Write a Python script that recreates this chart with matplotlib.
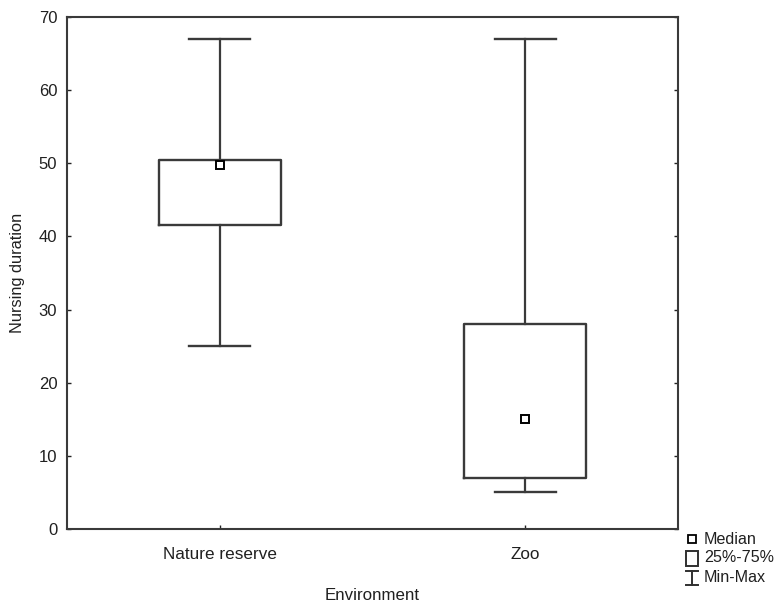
import matplotlib
matplotlib.use("Agg")
import matplotlib.pyplot as plt
from matplotlib.lines import Line2D
from matplotlib.patches import Rectangle

plt.rcParams['font.family'] = ['Liberation Sans', 'DejaVu Sans']

# values
groups = ["Nature reserve", "Zoo"]
medians = [49.8, 15.0]
q1 = [41.5, 7.0]
q3 = [50.5, 28.0]
mins = [25.0, 5.0]
maxs = [67.0, 67.0]

W, H = 776, 605
fig = plt.figure(figsize=(W / 100, H / 100), dpi=100)
ax = fig.add_axes([67 / W, 1 - 529 / H, (678 - 67) / W, (529 - 17) / H])

line_col = '#3a3a3a'
txt_col = '#202020'
stats = []
for i, g in enumerate(groups):
    stats.append(dict(label=g, med=medians[i], q1=q1[i], q3=q3[i],
                      whislo=mins[i], whishi=maxs[i], fliers=[]))

pos = list(range(len(groups)))
ax.bxp(stats, positions=pos, widths=0.4, capwidths=0.2, showfliers=False,
       boxprops=dict(color=line_col, linewidth=1.7),
       whiskerprops=dict(color=line_col, linewidth=1.6),
       capprops=dict(color=line_col, linewidth=1.7),
       medianprops=dict(visible=False))
ax.plot(pos, medians, linestyle='none', marker='s', markersize=6,
        markerfacecolor='white', markeredgecolor='black', markeredgewidth=1.4,
        zorder=5)

ax.set_xlim(-0.5, 1.5)
ax.set_ylim(0, 70)
ax.set_yticks(range(0, 71, 10))
ax.set_xticks(pos)
ax.set_xticklabels(groups)
ax.tick_params(direction='in', length=3, width=1, color='#222222',
               labelsize=12, labelcolor=txt_col, right=True)
ax.tick_params(axis='y', pad=7)
ax.tick_params(axis='x', pad=13, labelsize=12.3)
for s in ax.spines.values():
    s.set_color(line_col)
    s.set_linewidth(1.5)

ax.set_xlabel("Environment", fontsize=12.2, color=txt_col, labelpad=19)
ax.set_ylabel("Nursing duration", fontsize=11.8, color=txt_col, labelpad=10)

# legend glyphs drawn in pixel positions below the right corner
def fx(x):
    return x / W

def fy(y):
    return 1 - y / H

tf = fig.transFigure
fig.add_artist(Line2D([fx(692)], [fy(539)], marker='s', markersize=5.5,
                      markerfacecolor='white', markeredgecolor='black',
                      markeredgewidth=1.3, transform=tf))
fig.add_artist(Rectangle((fx(686), fy(566)), fx(12), 15 / H, fill=False,
                         edgecolor='#303030', linewidth=1.4, transform=tf))
fig.add_artist(Line2D([fx(686), fx(698)], [fy(571), fy(571)], color='#303030', lw=1.4, transform=tf))
fig.add_artist(Line2D([fx(692), fx(692)], [fy(571), fy(585)], color='#303030', lw=1.4, transform=tf))
fig.add_artist(Line2D([fx(686), fx(698)], [fy(585), fy(585)], color='#303030', lw=1.4, transform=tf))
for label, yy in [("Median", 539), ("25%-75%", 558), ("Min-Max", 578)]:
    fig.text(fx(704), fy(yy), label, fontsize=11.6, color=txt_col, va='center', ha='left')

fig.savefig("out.png", dpi=100)
